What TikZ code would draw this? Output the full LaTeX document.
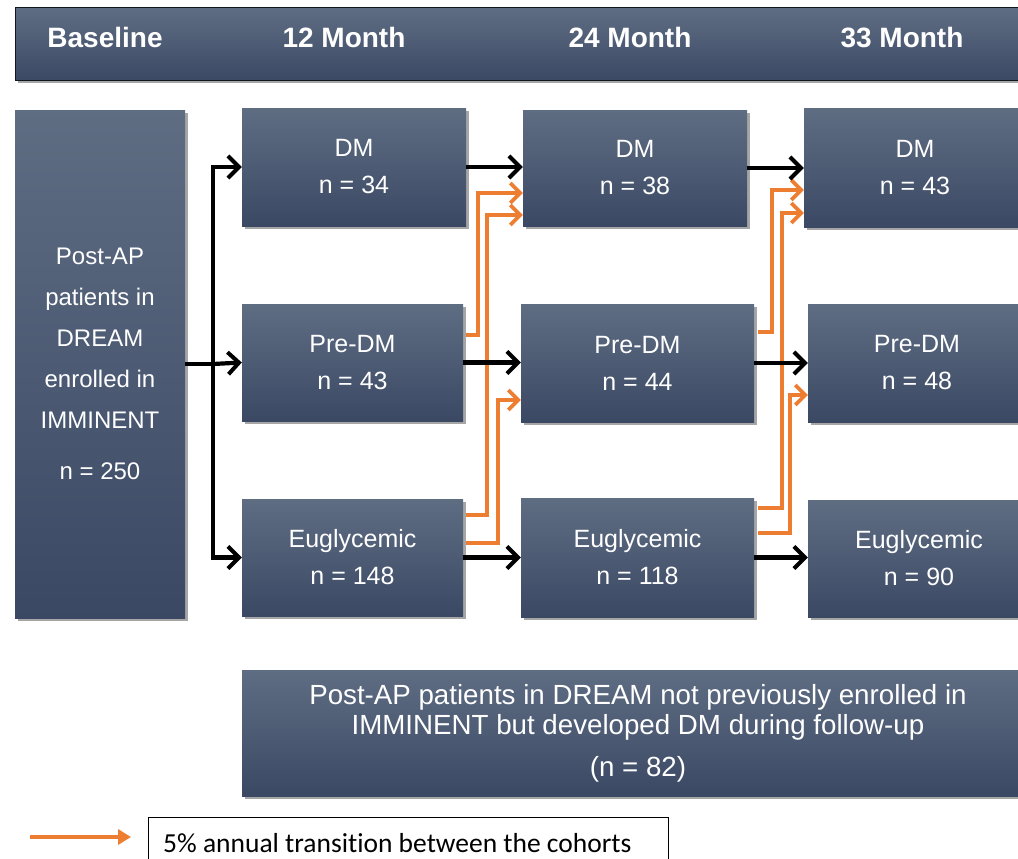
\documentclass[tikz,border=0pt]{standalone}
\usepackage{fontspec}
\setmainfont{Liberation Sans}
\newfontfamily\legfont[Ligatures=NoCommon]{Carlito}
\usetikzlibrary{arrows.meta,shadows,calc}
\definecolor{boxtop}{RGB}{95,109,131}
\definecolor{boxbot}{RGB}{58,72,100}
\definecolor{orng}{RGB}{237,125,49}
\tikzset{
  cohort/.style={rectangle, top color=boxtop, bottom color=boxbot, draw=none,
    text=white, align=center, inner sep=0pt,
    font=\fontsize{25}{37}\selectfont,
    drop shadow={shadow xshift=2.5pt, shadow yshift=-2.5pt, opacity=0.35, fill=black}},
  hdrtext/.style={text=white, font=\bfseries\fontsize{28}{30}\selectfont, anchor=base, inner sep=0pt},
  blk/.style={draw=black, line width=4.2pt, -{Straight Barb[length=11pt,width=22pt,line width=4pt]}},
  blkline/.style={draw=black, line width=4.2pt},
  org/.style={draw=orng, line width=3.8pt, -{Straight Barb[length=10pt,width=20pt,line width=3.6pt]}},
  orgleg/.style={draw=orng, line width=4pt, -{Triangle[length=13pt,width=15pt]}},
  legbox/.style={draw=black, line width=1pt, fill=white, minimum width=520pt, minimum height=54pt,
    inner sep=0pt},
  legtext/.style={anchor=west, inner sep=0pt, font=\legfont\fontsize{27.5}{30}\selectfont}
}
\begin{document}
\begin{tikzpicture}[x=1pt,y=-1pt]
\useasboundingbox (0,0) rectangle (1018,859);
\fill[white] (0,0) rectangle (1018,859);

% header band
\node[cohort, minimum width=1020pt, minimum height=73pt, draw=black!70!boxbot, line width=1pt] (hdr) at (525,44.5) {};
\node[hdrtext] (hb) at (105,48) {Baseline};
\node[hdrtext] (h12) at (344,48) {12 Month};
\node[hdrtext] (h24) at (630,48) {24 Month};
\node[hdrtext] (h33) at (902,48) {33 Month};

% cohort boxes
\node[cohort, minimum width=170pt, minimum height=508pt, font=\fontsize{24}{41}\selectfont] (base) at (100,364)
  {Post-AP\\patients in\\DREAM\\enrolled in\\IMMINENT\\[10pt]n = 250};

\node[cohort, minimum width=224pt, minimum height=118pt] (d12) at (354,167) {DM\\n = 34};
\node[cohort, minimum width=221pt, minimum height=117pt] (p12) at (352.5,362.5) {Pre-DM\\n = 43};
\node[cohort, minimum width=221pt, minimum height=117pt] (e12) at (352.5,557.5) {Euglycemic\\n = 148};

\node[cohort, minimum width=224pt, minimum height=116pt] (d24) at (635,168) {DM\\n = 38};
\node[cohort, minimum width=233pt, minimum height=118pt] (p24) at (637.5,363) {Pre-DM\\n = 44};
\node[cohort, minimum width=233pt, minimum height=119pt] (e24) at (637.5,557.5) {Euglycemic\\n = 118};

\node[cohort, minimum width=222pt, minimum height=119pt] (d33) at (915,167.5) {DM\\n = 43};
\node[cohort, minimum width=218pt, minimum height=118pt] (p33) at (917,363) {Pre-DM\\n = 48};
\node[cohort, minimum width=222pt, minimum height=117pt] (e33) at (919,558.5) {Euglycemic\\n = 90};

\node[cohort, minimum width=792pt, minimum height=126pt, font=\fontsize{27.7}{30}\selectfont] (late) at (638,733)
  {Post-AP patients in DREAM not previously enrolled in\\IMMINENT but developed DM during follow-up\\[12pt](n = 82)};

% orange transitions 12 -> 24
\draw[org] ($(p12.east |- 0,335)+(3,0)$) -- (478,335) -- (478,193) -- (d24.west |- 0,193);
\draw[org] ($(e12.east |- 0,515)+(3,0)$) -- (487,515) -- (487,215) -- (d24.west |- 0,215);
\draw[org] ($(e12.east |- 0,543)+(3,0)$) -- (498,543) -- (498,400) -- (p24.west |- 0,400);
% orange transitions 24 -> 33
\draw[org] ($(p24.east |- 0,332)+(4,0)$) -- (772,332) -- (772,190) -- (d33.west |- 0,190);
\draw[org] ($(e24.east |- 0,508)+(4,0)$) -- (782,508) -- (782,213) -- (d33.west |- 0,213);
\draw[org] ($(e24.east |- 0,533)+(4,0)$) -- (790,533) -- (790,395) -- (p33.west |- 0,395);

% black connectors
\coordinate (split) at (213,364);
\draw[blkline] (base.east) -- (split);
\draw[blk] (split) -- (p12.west);
\draw[blk] (split) |- (d12.west);
\draw[blk] (split) |- (e12.west);

\draw[blk] (d12.east) -- (d12.east -| d24.west);
\draw[blk] (p12.east) -- (p12.east -| p24.west);
\draw[blk] (e12.east) -- (e12.east -| e24.west);
\draw[blk] (d24.east) -- (d24.east -| d33.west);
\draw[blk] (p24.east) -- (p24.east -| p33.west);
\draw[blk] (e24.east) -- (e24.east -| e33.west);

% legend
\coordinate (la0) at (30,837);
\coordinate (la1) at (131,837);
\draw[orgleg] (la0) -- (la1);
\node[legbox] (leg) at (408,844) {};
\node[legtext] (legt) at (163,843) {5\% annual transition between the cohorts};
\end{tikzpicture}
\end{document}
